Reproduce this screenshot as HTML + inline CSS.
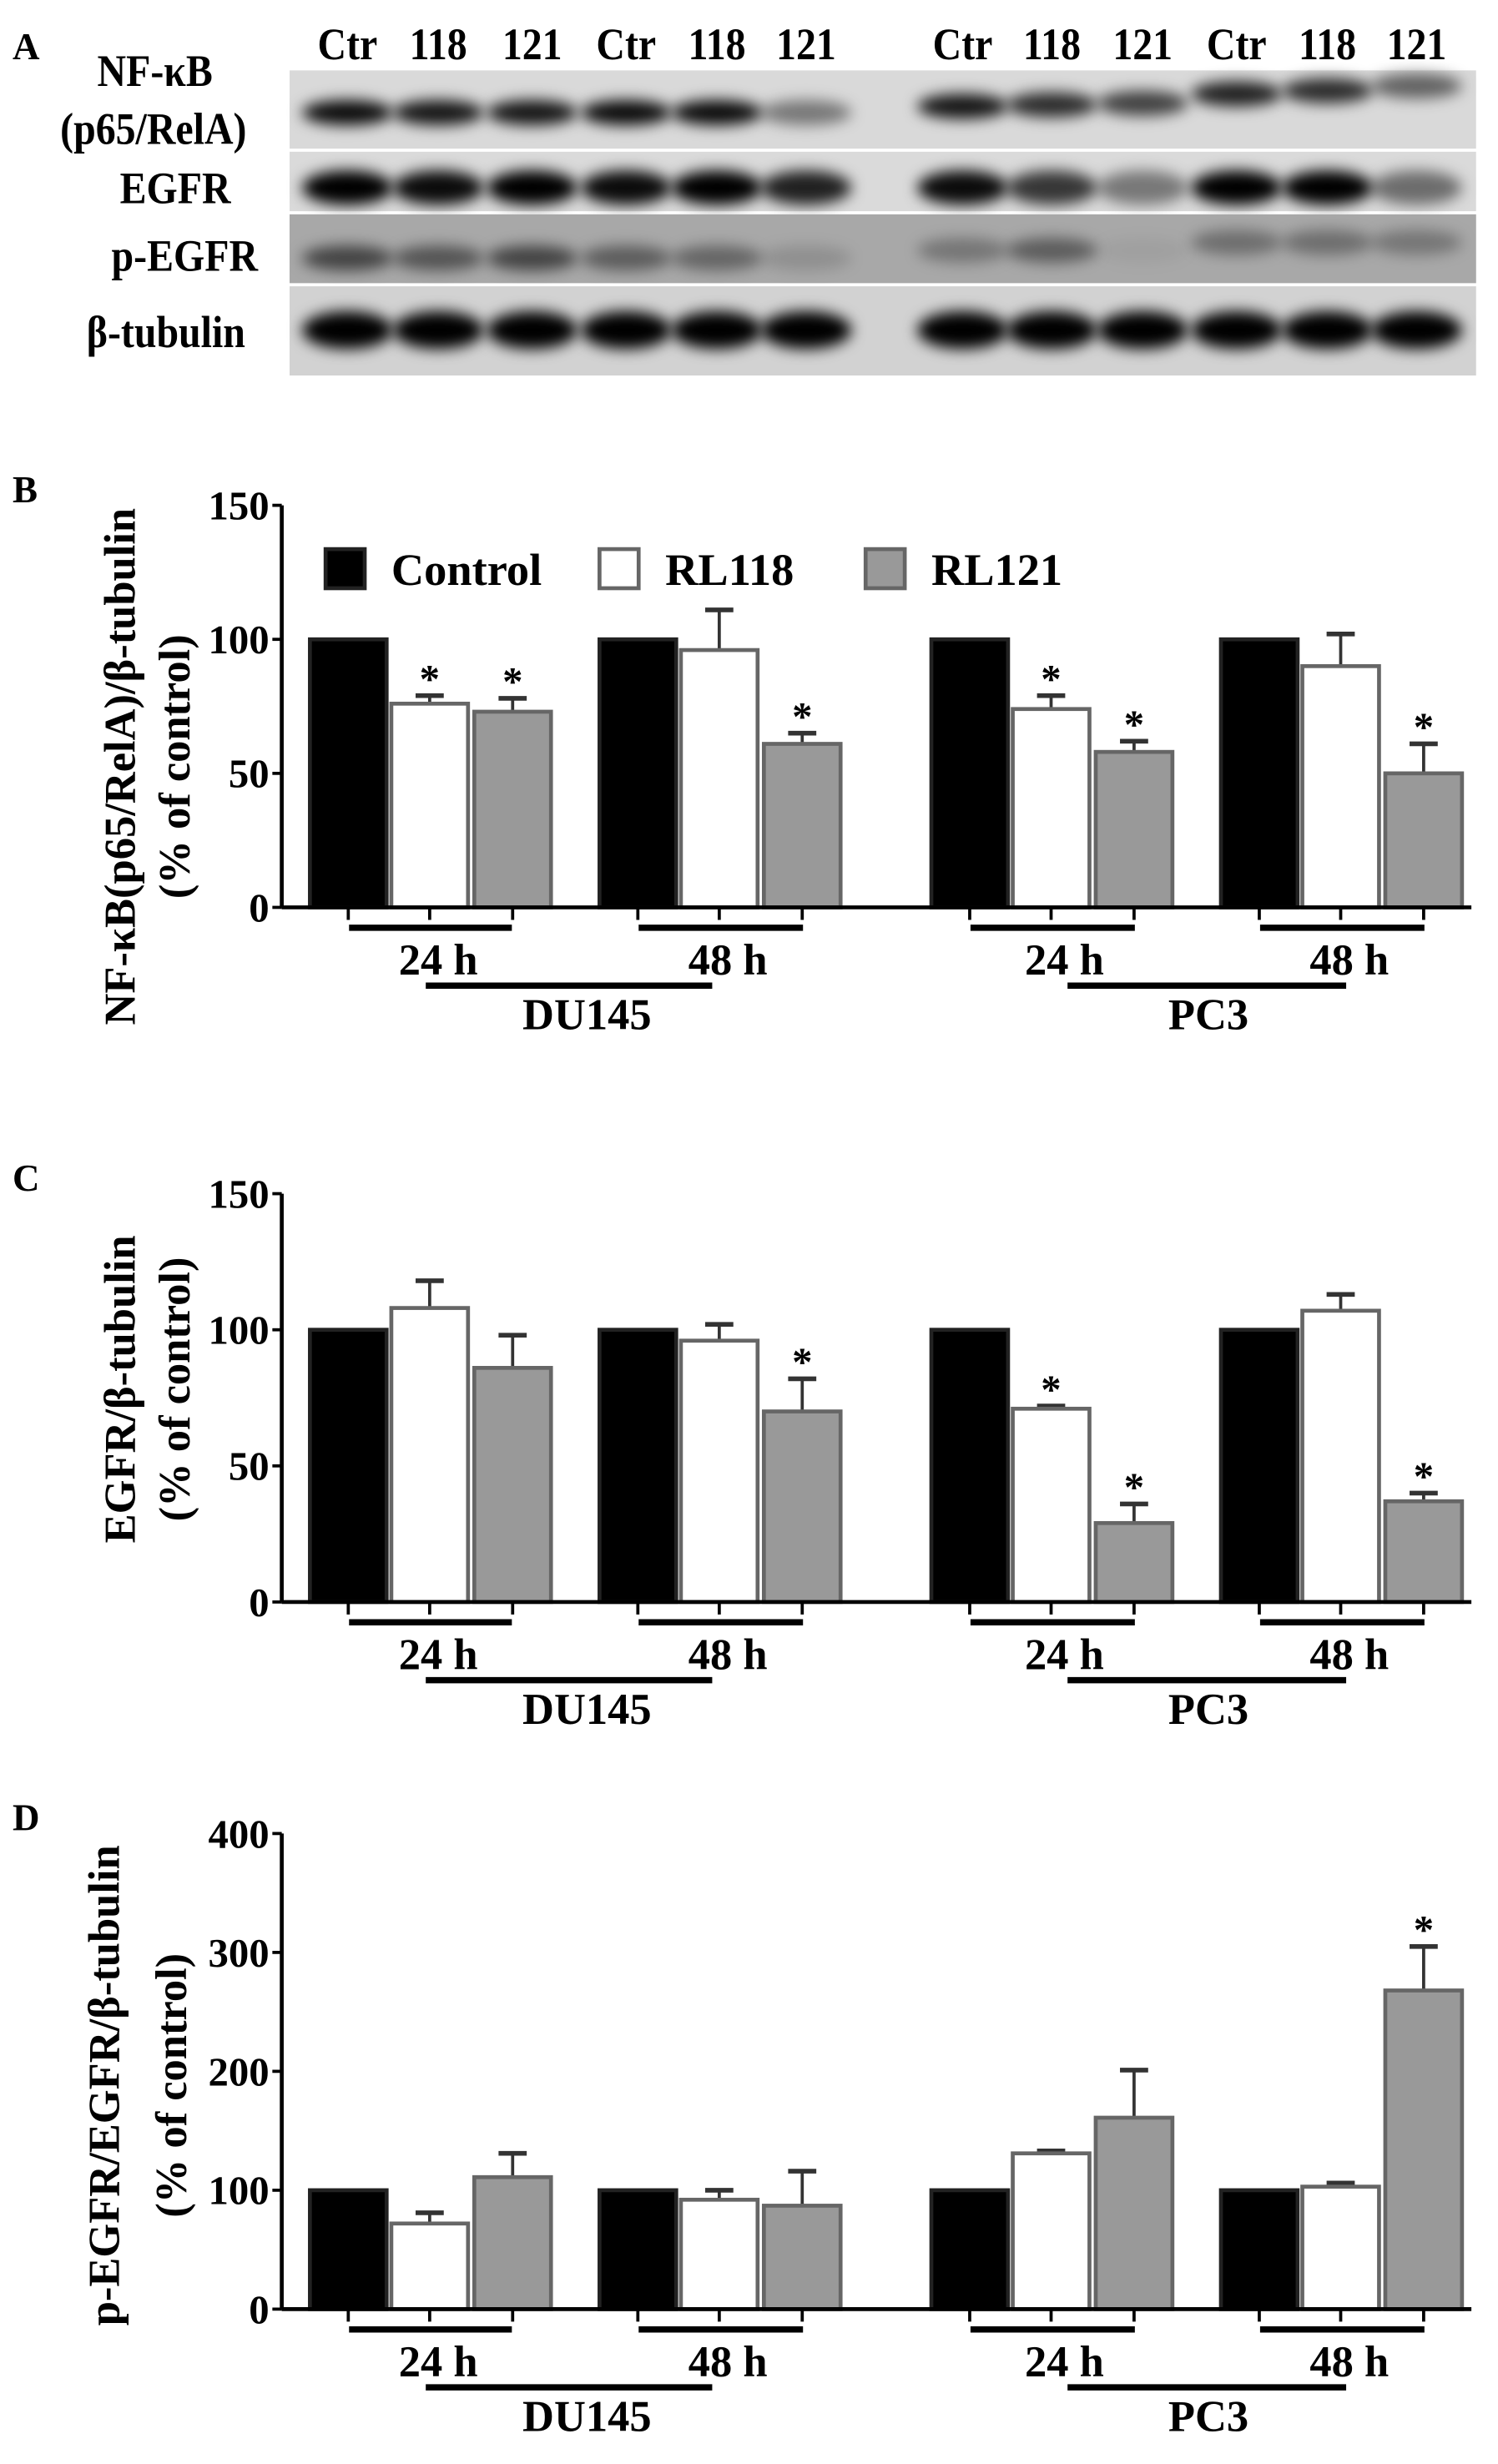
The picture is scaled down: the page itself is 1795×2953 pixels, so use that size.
<!DOCTYPE html>
<html><head><meta charset="utf-8"><style>
html,body{margin:0;padding:0;background:#fff}
svg{display:block}
text{font-family:"Liberation Serif",serif;font-weight:bold;fill:#000}
</style></head><body>
<svg id="fig" width="1795" height="2953" viewBox="0 0 957 1575" preserveAspectRatio="none" xmlns="http://www.w3.org/2000/svg">
<defs><filter id="blur" x="-50%" y="-100%" width="200%" height="300%"><feGaussianBlur stdDeviation="4.5"/></filter></defs>
<g id="blot"></g>
<g id="charts"></g>
</svg>
<script>
// ---- data ----
const groups = ["DU145 24 h","DU145 48 h","PC3 24 h","PC3 48 h"];
const seriesNames = ["Control","RL118","RL121"];
const nfkbValues = [[100,76,73],[100,96,61],[100,74,58],[100,90,50]];
const nfkbErrTop = [[100,79,78],[100,111,65],[100,79,62],[100,102,61]];
const nfkbStars = [[0,1,1],[0,0,1],[0,1,1],[0,0,1]];
const egfrValues = [[100,108,86],[100,96,70],[100,71,29],[100,107,37]];
const egfrErrTop = [[100,118,98],[100,102,82],[100,72,36],[100,113,40]];
const egfrStars = [[0,0,0],[0,0,1],[0,1,1],[0,0,1]];
const pegfrValues = [[100,72,111],[100,92,87],[100,131,161],[100,103,268]];
const pegfrErrTop = [[100,81,131],[100,100,116],[100,133,201],[100,106,305]];
const pegfrStars = [[0,0,0],[0,0,0],[0,0,0],[0,0,1]];
const ticksB = [0,50,100,150];
const ticksD = [0,100,200,300,400];
const laneLabels = ["Ctr","118","121","Ctr","118","121","Ctr","118","121","Ctr","118","121"];
const bandNfkb = [0.95,0.9,0.9,0.95,0.95,0.45,0.9,0.8,0.7,0.85,0.8,0.55];
const bandEgfr = [1,0.95,1,0.95,1,0.85,0.95,0.75,0.45,1,1,0.5];
const bandPegfr = [0.6,0.5,0.6,0.45,0.4,0.15,0.3,0.45,0.05,0.35,0.35,0.3];
const bandTub = [1,1,1,1,1,1,1,1,1,1,1,1];

const NS="http://www.w3.org/2000/svg";
function mk(parent,tag,attrs,txt){const e=document.createElementNS(NS,tag);for(const k in attrs)e.setAttribute(k,attrs[k]);if(txt!==undefined)e.textContent=txt;parent.appendChild(e);return e;}

// ---- Panel A blot ----
const blot=document.getElementById('blot');
let t=mk(blot,'text',{x:8,y:38,'font-size':24},'A');


const laneX=[222,280,340,400,458,515,615,672,730,790,848,905];
const nfkbRightY=[68,67,66,60,58,55];
laneLabels.forEach((l,i)=>{const e=mk(blot,'text',{x:laneX[i],y:38,'font-size':29,'text-anchor':'middle',transform:`translate(${laneX[i]*0.12},0) scale(0.88,1)`},l);

});
const rows=[{name:'NF-κB',y:45,h:50,bg:'#d9d9d9',band:bandNfkb,by:72},
{name:'EGFR',y:97,h:38,bg:'#dadada',band:bandEgfr,by:120},
{name:'p-EGFR',y:137,h:44,bg:'#a8a8a8',band:bandPegfr,by:165},
{name:'β-tubulin',y:183,h:57,bg:'#d2d2d2',band:bandTub,by:211}];
rows.forEach((r,ri)=>{
 const g=mk(blot,'g',{});
 
 
 mk(g,'rect',{x:185,y:r.y,width:758,height:r.h,fill:r.bg});
 r.band.forEach((v,i)=>{let y=r.by;
  if(ri===0&&i>=6)y=nfkbRightY[i-6];
  if(ri===2&&i>=6)y=i>=9?155:160;
  const ry=ri===3?12:(ri===1?11:8);
  const e=mk(g,'ellipse',{cx:laneX[i],cy:y,rx:29,ry:ry,fill:'#000','fill-opacity':v,filter:'url(#blur)'});
  
  });
});
[['NF-κB',99,55],['(p65/RelA)',98,92],['EGFR',112,130],['p-EGFR',118,173],['β-tubulin',106,222]].forEach(a=>{
 const e=mk(blot,'text',{x:a[1],y:a[2],'font-size':29,'text-anchor':'middle',transform:`translate(${a[1]*0.12},0) scale(0.88,1)`},a[0]);
 
 });

// ---- bar charts ----
const charts=document.getElementById('charts');
const barX=[[198,250,303],[383,435,488],[595,647,700],[780,832,885]];
const barW=49;
const fills=['#000','#fff','#999'];
function panel(o){
 const g=mk(charts,'g',{});
 
 
 const yv=v=>o.y0-(v/o.max)*(o.y0-o.yTop);
 let e=mk(g,'text',{x:8,y:o.yTop-2,'font-size':24},o.letter);
 
 
 mk(g,'line',{x1:180,y1:o.yTop,x2:180,y2:o.y0,stroke:'#000','stroke-width':2.5});
 o.ticks.forEach(tk=>{mk(g,'line',{x1:174,x2:180,y1:yv(tk),y2:yv(tk),stroke:'#000','stroke-width':2});
  const l=mk(g,'text',{x:172,y:yv(tk)+9,'font-size':26,'text-anchor':'end'},tk);
  
  });
 o.values.forEach((gr,gi)=>gr.forEach((v,si)=>{
  const x=barX[gi][si];
  const top=o.err[gi][si];
  if(top>v){mk(g,'line',{x1:x+barW/2,x2:x+barW/2,y1:yv(v),y2:yv(top),stroke:'#333','stroke-width':2});
   mk(g,'line',{x1:x+barW/2-9,x2:x+barW/2+9,y1:yv(top),y2:yv(top),stroke:'#333','stroke-width':3});}
  const b=mk(g,'rect',{x:x,y:yv(v),width:barW,height:o.y0-yv(v),fill:fills[si],stroke:si===0?'#222':'#666','stroke-width':2.5});
  
  
  if(o.stars[gi][si]){const s=mk(g,'text',{x:x+barW/2,y:yv(top)-2,'font-size':26,'text-anchor':'middle','font-weight':'normal'},'*');
   
   }
 }));
 mk(g,'line',{x1:180,x2:940,y1:o.y0,y2:o.y0,stroke:'#000','stroke-width':2.5});
 barX.forEach(gx=>gx.forEach(x=>mk(g,'line',{x1:x+barW/2,x2:x+barW/2,y1:o.y0,y2:o.y0+8,stroke:'#000','stroke-width':2})));
 const L=o.y0+13;
 [[223,327,280],[408,513,465],[620,725,680],[805,910,862]].forEach((a,i)=>{
  mk(g,'line',{x1:a[0],x2:a[1],y1:L,y2:L,stroke:'#000','stroke-width':4});
  const tx=mk(g,'text',{x:a[2],y:L+30,'font-size':28,'text-anchor':'middle'},i%2?'48 h':'24 h');
  
  });
 [[272,455,375,'DU145'],[682,860,772,'PC3']].forEach(a=>{
  mk(g,'line',{x1:a[0],x2:a[1],y1:L+37,y2:L+37,stroke:'#000','stroke-width':4});
  const tx=mk(g,'text',{x:a[2],y:L+65,'font-size':28,'text-anchor':'middle'},a[3]);
  
  });
 o.title.forEach((tl,i)=>{const tx=mk(g,'text',{x:0,y:0,'font-size':28,'text-anchor':'middle',transform:`translate(${o.titleX[i]},${o.titleY}) rotate(-90)`},tl);
  
  });
}
panel({name:'chart-nfkb',letter:'B',y0:580,yTop:323,max:150,ticks:ticksB,values:nfkbValues,err:nfkbErrTop,stars:nfkbStars,title:['NF-κB(p65/RelA)/β-tubulin','(% of control)'],titleX:[86,121],titleY:490});
panel({name:'chart-egfr',letter:'C',y0:1024,yTop:763,max:150,ticks:ticksB,values:egfrValues,err:egfrErrTop,stars:egfrStars,title:['EGFR/β-tubulin','(% of control)'],titleX:[86,121],titleY:888});
panel({name:'chart-pegfr',letter:'D',y0:1476,yTop:1172,max:400,ticks:ticksD,values:pegfrValues,err:pegfrErrTop,stars:pegfrStars,title:['p-EGFR/EGFR/β-tubulin','(% of control)'],titleX:[76,119],titleY:1333});

// legend
const lg=mk(charts,'g',{});


[[208,250],[383,425],[553,595]].forEach((a,i)=>{
 const r=mk(lg,'rect',{x:a[0],y:351,width:25,height:25,fill:fills[i],stroke:i===0?'#222':'#666','stroke-width':2.5});
 
 
 const tx=mk(lg,'text',{x:a[1],y:374,'font-size':29},seriesNames[i]);
 
 
});
</script>
</body></html>
